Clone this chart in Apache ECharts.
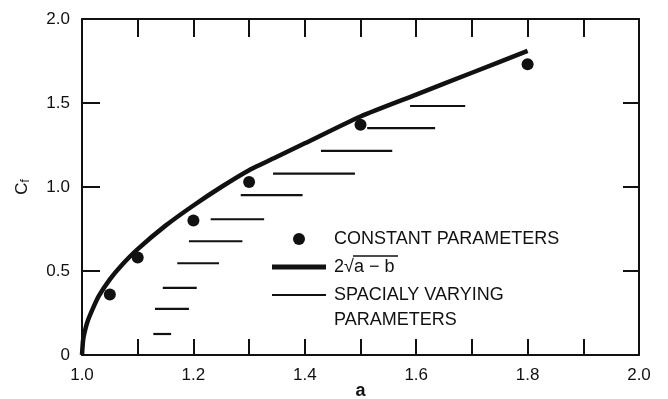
<!DOCTYPE html>
<html>
<head>
<meta charset="utf-8">
<script src="https://cdn.jsdelivr.net/npm/echarts@6/dist/echarts.min.js"></script>
<style>html,body{margin:0;padding:0;background:#fff}#c{width:668px;height:399px}</style>
</head>
<body>
<div id="c"></div>
<script>
// Constant parameters (dots)
var dotA = [1.05, 1.10, 1.20, 1.30, 1.50, 1.80];
var dotC = [0.36, 0.58, 0.80, 1.03, 1.37, 1.73];
// Curve 2*sqrt(a-b), values
var curveA = [1.0, 1.002, 1.005, 1.01, 1.02, 1.03, 1.05, 1.07, 1.10, 1.15, 1.20, 1.25, 1.30, 1.35, 1.40, 1.50, 1.60, 1.70, 1.80];
var curveC = [0.0, 0.09, 0.14, 0.20, 0.28, 0.35, 0.45, 0.53, 0.63, 0.77, 0.89, 1.00, 1.10, 1.18, 1.26, 1.42, 1.55, 1.68, 1.81];
// Spacially varying parameters (horizontal segments)
var segStart = [1.128, 1.131, 1.145, 1.171, 1.192, 1.231, 1.285, 1.343, 1.429, 1.512, 1.589];
var segEnd   = [1.160, 1.192, 1.206, 1.246, 1.288, 1.327, 1.396, 1.490, 1.557, 1.634, 1.688];
var segC     = [0.125, 0.274, 0.400, 0.546, 0.677, 0.808, 0.952, 1.080, 1.215, 1.351, 1.482];
// Tick labels
var yTickLabels = {0: '0', 0.5: '0.5', 1: '1.0', 1.5: '1.5', 2: '2.0'};

var nameDots = 'CONSTANT PARAMETERS';
var nameCurve = '2\u221Aa \u2212 b';
var nameSeg = 'SPACIALY VARYING';

var FONT = '"Liberation Sans", Arial, sans-serif';
var INK = '#111';

var series = [];
series.push({
  name: nameCurve, type: 'line', showSymbol: false, symbol: 'none',
  data: curveA.map(function (a, i) { return [a, curveC[i]]; }),
  lineStyle: {color: INK, width: 4.5}, itemStyle: {color: INK}, smooth: 0.2, z: 3
});
series.push({
  name: nameDots, type: 'scatter', symbol: 'circle', symbolSize: 12,
  itemStyle: {color: INK, opacity: 1},
  data: dotA.map(function (a, i) { return [a, dotC[i]]; }), z: 4
});
for (var i = 0; i < segC.length; i++) {
  series.push({
    name: nameSeg, type: 'line', showSymbol: false, symbol: 'none',
    data: [[segStart[i], segC[i]], [segEnd[i], segC[i]]],
    lineStyle: {color: INK, width: 2.2}, itemStyle: {color: INK}, z: 2
  });
}

var chart = echarts.init(document.getElementById('c'), null, {renderer: 'canvas'});
chart.setOption({
  animation: false,
  backgroundColor: '#fff',
  grid: {left: 82, right: 29, top: 19, bottom: 44, outerBoundsMode: 'none', containLabel: false},
  legend: {
    left: 272, top: 229, orient: 'vertical', itemWidth: 54, itemHeight: 12, itemGap: 8, padding: 0,
    selectedMode: false,
    textStyle: {fontFamily: FONT, fontSize: 18, color: INK, lineHeight: 20, padding: [0, 0, 0, 3]},
    data: [
      {name: nameDots, icon: 'circle', itemStyle: {color: INK, opacity: 1}},
      {name: nameCurve, icon: 'path://M0,0H54V5H0Z', itemStyle: {color: INK}},
      {name: nameSeg, icon: 'path://M0,0H54V2H0Z', itemStyle: {color: INK}}
    ]
  },
  graphic: [
    {type: 'text', left: 334, top: 311, style: {text: 'PARAMETERS', font: '18px ' + FONT, fill: INK}},
    {type: 'line', shape: {x1: 353, y1: 256, x2: 398, y2: 256}, style: {stroke: INK, lineWidth: 1.3}}
  ],
  xAxis: [{
    type: 'value', min: 1, max: 2, interval: 0.1, position: 'bottom',
    name: 'a', nameLocation: 'middle', nameGap: 27, nameMoveOverlap: false,
    nameTextStyle: {fontFamily: FONT, fontSize: 18, fontWeight: 'bold', color: INK},
    axisLine: {show: true, onZero: false, lineStyle: {color: INK, width: 2}},
    axisTick: {show: true, inside: true, length: 16, lineStyle: {color: INK, width: 2}},
    axisLabel: {
      margin: 12, fontFamily: FONT, fontSize: 17, color: INK, showMinLabel: true, showMaxLabel: true,
      formatter: function (v) { return Math.round(v * 10) % 2 === 0 ? v.toFixed(1) : ''; }
    },
    splitLine: {show: false}
  }, {
    type: 'value', min: 1, max: 2, interval: 0.1, position: 'top',
    axisLine: {show: true, onZero: false, lineStyle: {color: INK, width: 2}},
    axisTick: {show: true, inside: true, length: 18, lineStyle: {color: INK, width: 2}},
    axisLabel: {show: false}, splitLine: {show: false}
  }],
  yAxis: [{
    type: 'value', min: 0, max: 2, interval: 0.5, position: 'left',
    name: 'C{sub|f}', nameLocation: 'middle', nameGap: 50, nameRotate: 90, nameMoveOverlap: false,
    nameTextStyle: {fontFamily: FONT, fontSize: 17, color: INK,
      rich: {sub: {fontFamily: FONT, fontSize: 12, color: INK, verticalAlign: 'bottom', padding: [8, 0, 0, 0]}}},
    axisLine: {show: true, onZero: false, lineStyle: {color: INK, width: 2}},
    axisTick: {show: true, inside: true, length: 18, lineStyle: {color: INK, width: 2}},
    axisLabel: {margin: 12, fontFamily: FONT, fontSize: 17, color: INK,
      formatter: function (v) { return yTickLabels[v] !== undefined ? yTickLabels[v] : ''; }},
    splitLine: {show: false}
  }, {
    type: 'value', min: 0, max: 2, interval: 0.5, position: 'right',
    axisLine: {show: true, onZero: false, lineStyle: {color: INK, width: 2}},
    axisTick: {show: true, inside: true, length: 16, lineStyle: {color: INK, width: 2}},
    axisLabel: {show: false}, splitLine: {show: false}
  }],
  series: series
});
</script>
</body>
</html>
